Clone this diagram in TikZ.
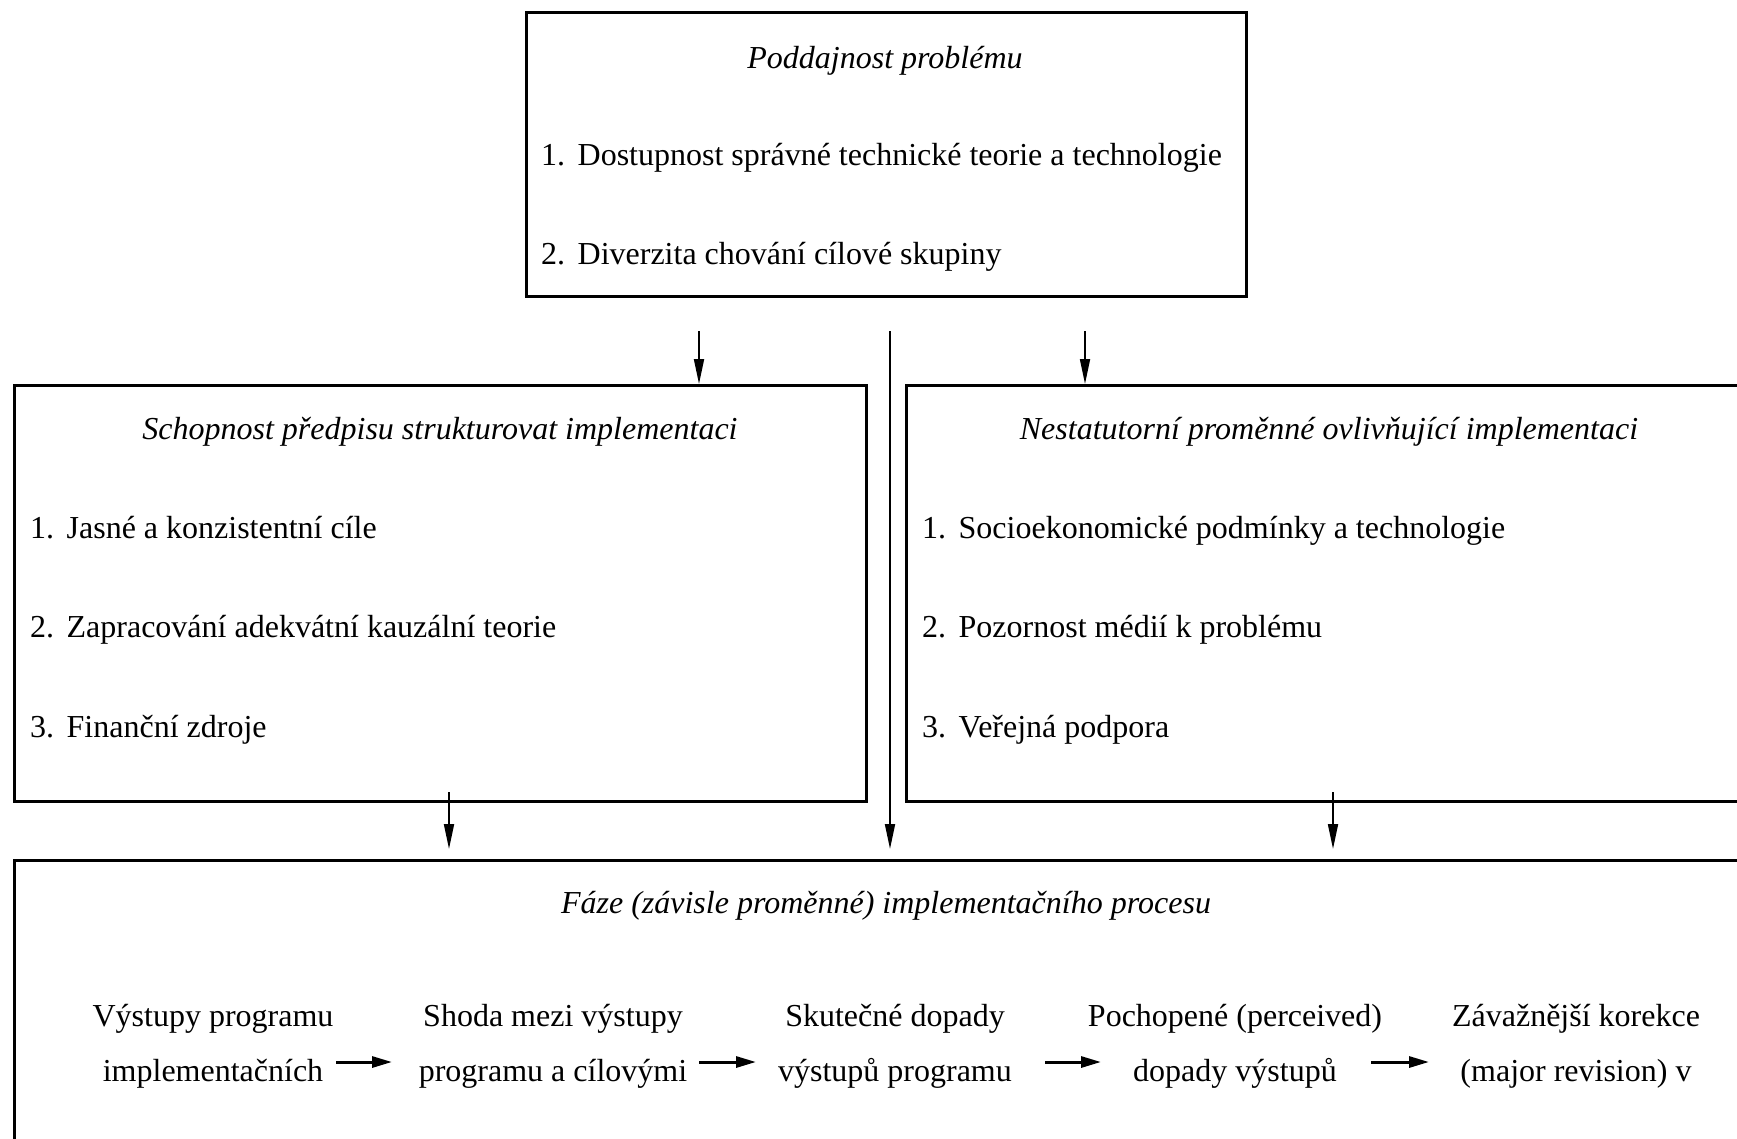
\documentclass[tikz,border=0pt]{standalone}
\usepackage{fontspec}
\setmainfont{Liberation Serif}
\usetikzlibrary{arrows.meta}
\newcommand{\itm}[2]{\makebox[1.14em][l]{#1.}#2}
\begin{document}
\begin{tikzpicture}[x=1pt,y=-1pt,
  box/.style={draw, line width=2.8pt, inner sep=0pt, anchor=north west},
  txt/.style={inner sep=0pt, font=\fontsize{32}{55}\selectfont},
  ttl/.style={txt, font=\fontsize{32}{55}\selectfont\itshape, anchor=base},
  lst/.style={txt, anchor=base west},
  stage/.style={txt, align=center, anchor=base},
  varr/.style={line width=1.8pt, -{Triangle[length=25pt,width=10pt]}},
  harr/.style={line width=3pt, -{Triangle[length=20pt,width=11pt]}}]
\useasboundingbox (0,0) rectangle (1737,1138);
\clip (0,0) rectangle (1737,1138);
\fill[white] (0,0) rectangle (1737,1138);
% boxes
\node[box, minimum width=720pt, minimum height=284pt] (top) at (525,11) {};
\node[box, minimum width=852pt, minimum height=416pt] (left) at (13,384) {};
\node[box, minimum width=848pt, minimum height=416pt] (right) at (905,384) {};
\node[box, minimum width=1746pt, minimum height=440pt] (bot) at (13,859) {};
% top box texts
\node[ttl] (tt) at (885,68) {Poddajnost problému};
\node[lst] (t1) at (541,165) {\itm{1}{Dostupnost správné technické teorie a technologie}};
\node[lst] (t2) at (541,264) {\itm{2}{Diverzita chování cílové skupiny}};
% left box texts
\node[ttl] (lt) at (440,439) {Schopnost předpisu strukturovat implementaci};
\node[lst] (l1) at (30,538) {\itm{1}{Jasné a konzistentní cíle}};
\node[lst] (l2) at (30,637) {\itm{2}{Zapracování adekvátní kauzální teorie}};
\node[lst] (l3) at (30,737) {\itm{3}{Finanční zdroje}};
% right box texts
\node[ttl] (rt) at (1329,439) {Nestatutorní proměnné ovlivňující implementaci};
\node[lst] (r1) at (922,538) {\itm{1}{Socioekonomické podmínky a technologie}};
\node[lst] (r2) at (922,637) {\itm{2}{Pozornost médií k problému}};
\node[lst] (r3) at (922,737) {\itm{3}{Veřejná podpora}};
% bottom box texts
\node[ttl] (bt) at (886,913) {Fáze (závisle proměnné) implementačního procesu};
\node[stage] (s1) at (213,1081) {Výstupy programu\\implementačních};
\node[stage] (s2) at (553,1081) {Shoda mezi výstupy\\programu a cílovými};
\node[stage] (s3) at (895,1081) {Skutečné dopady\\výstupů programu};
\node[stage] (s4) at (1235,1081) {Pochopené (perceived)\\dopady výstupů};
\node[stage] (s5) at (1576,1081) {Závažnější korekce\\(major revision) v};
% connector start points
\coordinate (a1) at (699,331);
\coordinate (a2) at (890,331);
\coordinate (a3) at (1085,331);
\coordinate (a4) at (449,792);
\coordinate (a5) at (1333,792);
\coordinate (e2) at (890,849);
\coordinate (e4) at (449,849);
\coordinate (e5) at (1333,849);
\draw[varr] (a1) -- (a1 |- left.north);
\draw[varr] (a3) -- (a3 |- right.north);
\draw[varr] (a2) -- (e2);
\draw[varr] (a4) -- (e4);
\draw[varr] (a5) -- (e5);
% chain arrows
\coordinate (h1s) at (336,1062); \coordinate (h1e) at (392,1062);
\coordinate (h2s) at (699,1062); \coordinate (h2e) at (756,1062);
\coordinate (h3s) at (1045,1062); \coordinate (h3e) at (1101,1062);
\coordinate (h4s) at (1371,1062); \coordinate (h4e) at (1429,1062);
\draw[harr] (h1s) -- (h1e);
\draw[harr] (h2s) -- (h2e);
\draw[harr] (h3s) -- (h3e);
\draw[harr] (h4s) -- (h4e);
\end{tikzpicture}
\end{document}
